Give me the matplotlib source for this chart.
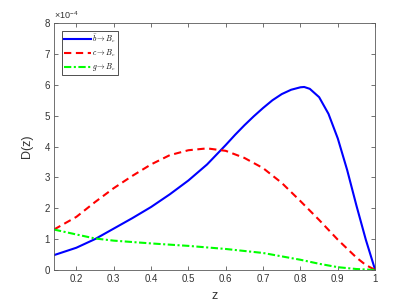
import matplotlib
matplotlib.use("Agg")
import matplotlib.pyplot as plt

# values in units of 1e-4
z_b = [0.14, 0.2, 0.25, 0.3, 0.35, 0.4, 0.45, 0.5, 0.55, 0.6, 0.625, 0.65, 0.675,
       0.7, 0.725, 0.75, 0.775, 0.8, 0.81, 0.825, 0.85, 0.875, 0.9, 0.925, 0.95,
       0.975, 1.0]
d_b = [0.48, 0.72, 1.0, 1.34, 1.68, 2.04, 2.45, 2.9, 3.42, 4.05, 4.38, 4.69, 4.98,
       5.25, 5.5, 5.7, 5.84, 5.92, 5.93, 5.87, 5.6, 5.06, 4.26, 3.24, 2.08,
       0.98, 0.0]

z_c = [0.14, 0.2, 0.25, 0.3, 0.35, 0.4, 0.45, 0.5, 0.55, 0.6, 0.65, 0.7, 0.75,
       0.8, 0.85, 0.9, 0.95, 0.975, 1.0]
d_c = [1.31, 1.72, 2.2, 2.65, 3.05, 3.42, 3.72, 3.88, 3.94, 3.86, 3.63, 3.3, 2.82,
       2.23, 1.62, 0.98, 0.4, 0.16, 0.0]

z_g = [0.14, 0.2, 0.25, 0.3, 0.4, 0.5, 0.6, 0.7, 0.8, 0.85, 0.9, 0.95, 1.0]
d_g = [1.31, 1.15, 1.02, 0.95, 0.86, 0.78, 0.68, 0.55, 0.33, 0.2, 0.09, 0.03, 0.0]

labels = [r"$\bar{b}\to B_c$", r"$c\to B_c$", r"$g\to B_c$"]

plt.rcParams["font.family"] = ["Liberation Sans", "DejaVu Sans"]
plt.rcParams["mathtext.fontset"] = "cm"

fig = plt.figure(figsize=(4.15, 3.04), dpi=100)
ax = fig.add_axes([0.130, 0.112, 0.774, 0.812])

ax.plot(z_b, d_b, color="#0000ff", lw=1.5, ls="-", label=labels[0])
ax.plot(z_c, d_c, color="#ff0000", lw=1.5, ls=(0, (3.5, 2.2)), label=labels[1])
ax.plot(z_g, d_g, color="#00ff00", lw=1.5, ls=(0, (3.5, 1.2, 1, 1.2)), label=labels[2])

ax.set_xlim(0.14, 1.0)
ax.set_ylim(0, 8)
ax.set_xticks([0.2, 0.3, 0.4, 0.5, 0.6, 0.7, 0.8, 0.9, 1.0])
ax.set_xticklabels(["0.2", "0.3", "0.4", "0.5", "0.6", "0.7", "0.8", "0.9", "1"])
ax.set_yticks(range(9))

axc = "#5a5a5a"
for s in ax.spines.values():
    s.set_color(axc)
    s.set_linewidth(0.6)
ax.tick_params(direction="in", length=3, width=0.6, color=axc, labelcolor="#333333",
               labelsize=7, top=True, right=True, pad=3)

ax.set_xlabel("z", fontsize=9, color="#333333", labelpad=4)
ax.set_ylabel("D(z)", fontsize=9, color="#333333", labelpad=8)
ax.text(0.0, 1.01, r"$\mathregular{\times10^{-4}}$", transform=ax.transAxes, fontsize=6.5,
        color="#333333", ha="left", va="bottom")

leg = ax.legend(loc="upper left", bbox_to_anchor=(0.025, 0.97), fontsize=5.5,
                handlelength=3.5, handletextpad=0.1, borderpad=0.3,
                labelspacing=0.3, borderaxespad=0.0, fancybox=False, framealpha=1)
leg.get_frame().set_edgecolor("#333333")
leg.get_frame().set_linewidth(0.6)

fig.savefig("out.png", dpi=100)
